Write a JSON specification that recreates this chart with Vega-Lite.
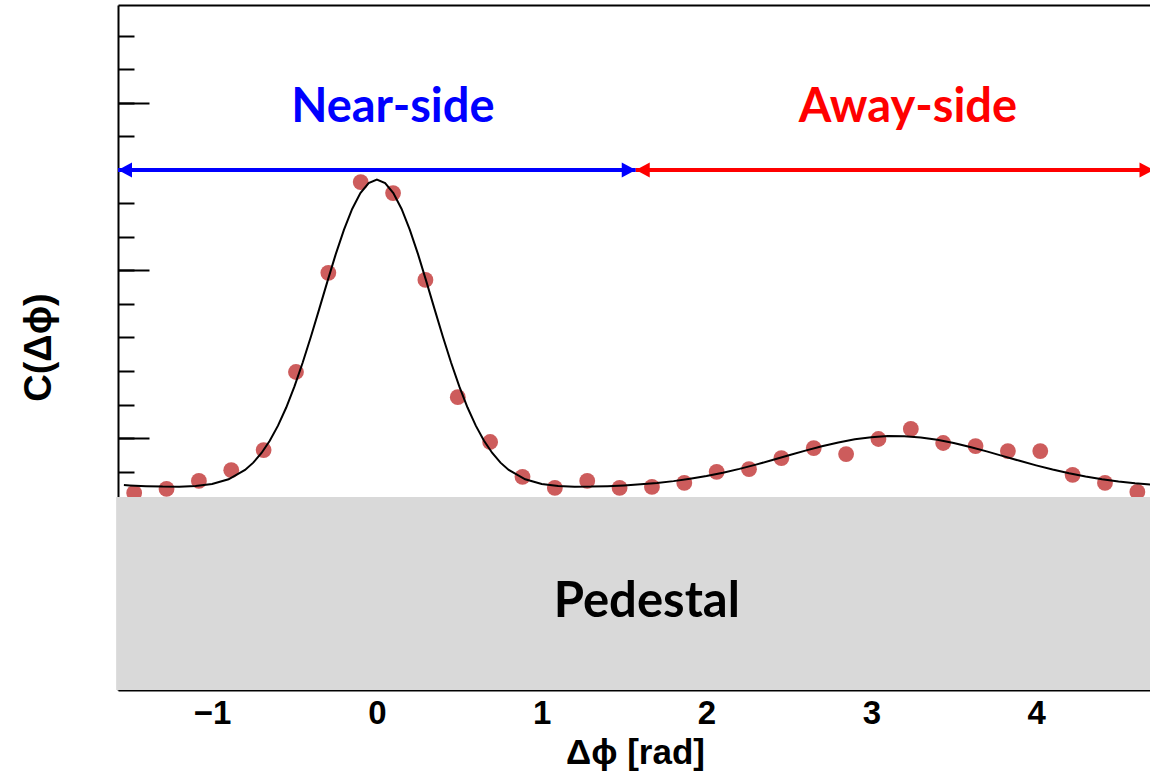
{
  "$schema": "https://vega.github.io/schema/vega-lite/v6.json",
  "width": 1032,
  "height": 685,
  "autosize": "none",
  "padding": {"left": 118, "top": 5, "right": 0, "bottom": 83},
  "background": "white",
  "config": {"view": {"stroke": null}},
  "datasets": {
    "points": [
      {"dphi": -1.4726, "c": 0.836}, {"dphi": -1.2763, "c": 0.848}, {"dphi": -1.0799, "c": 0.872}, {"dphi": -0.8836, "c": 0.904},
      {"dphi": -0.6872, "c": 0.964}, {"dphi": -0.4909, "c": 1.197}, {"dphi": -0.2945, "c": 1.493}, {"dphi": -0.0982, "c": 1.764},
      {"dphi": 0.0982, "c": 1.731}, {"dphi": 0.2945, "c": 1.472}, {"dphi": 0.4909, "c": 1.122}, {"dphi": 0.6872, "c": 0.988},
      {"dphi": 0.8836, "c": 0.884}, {"dphi": 1.0799, "c": 0.851}, {"dphi": 1.2763, "c": 0.872}, {"dphi": 1.4726, "c": 0.851},
      {"dphi": 1.669, "c": 0.854}, {"dphi": 1.8653, "c": 0.866}, {"dphi": 2.0617, "c": 0.899}, {"dphi": 2.258, "c": 0.907},
      {"dphi": 2.4544, "c": 0.94}, {"dphi": 2.6507, "c": 0.97}, {"dphi": 2.8471, "c": 0.952}, {"dphi": 3.0434, "c": 0.997},
      {"dphi": 3.2398, "c": 1.027}, {"dphi": 3.4361, "c": 0.985}, {"dphi": 3.6325, "c": 0.976}, {"dphi": 3.8288, "c": 0.961},
      {"dphi": 4.0252, "c": 0.961}, {"dphi": 4.2215, "c": 0.89}, {"dphi": 4.4179, "c": 0.866}, {"dphi": 4.6142, "c": 0.839}
    ],
    "fit": [
      {"dphi": -1.535, "c": 0.8595}, {"dphi": -1.5, "c": 0.8584}, {"dphi": -1.4, "c": 0.8562}, {"dphi": -1.3, "c": 0.8549},
      {"dphi": -1.2, "c": 0.8547}, {"dphi": -1.1, "c": 0.8567}, {"dphi": -1.0, "c": 0.8627}, {"dphi": -0.9, "c": 0.8767},
      {"dphi": -0.8, "c": 0.9048}, {"dphi": -0.75, "c": 0.9265}, {"dphi": -0.7, "c": 0.9554}, {"dphi": -0.65, "c": 0.9917},
      {"dphi": -0.6, "c": 1.0369}, {"dphi": -0.55, "c": 1.091}, {"dphi": -0.5, "c": 1.1539}, {"dphi": -0.45, "c": 1.2253},
      {"dphi": -0.4, "c": 1.3029}, {"dphi": -0.35, "c": 1.3848}, {"dphi": -0.3, "c": 1.4676}, {"dphi": -0.25, "c": 1.5481},
      {"dphi": -0.2, "c": 1.6212}, {"dphi": -0.15, "c": 1.6838}, {"dphi": -0.1, "c": 1.7312}, {"dphi": -0.05, "c": 1.7611},
      {"dphi": 0.0, "c": 1.7712}, {"dphi": 0.05, "c": 1.7611}, {"dphi": 0.1, "c": 1.7312}, {"dphi": 0.15, "c": 1.6838},
      {"dphi": 0.2, "c": 1.6212}, {"dphi": 0.25, "c": 1.5481}, {"dphi": 0.3, "c": 1.4676}, {"dphi": 0.35, "c": 1.3848},
      {"dphi": 0.4, "c": 1.3029}, {"dphi": 0.45, "c": 1.2253}, {"dphi": 0.5, "c": 1.1539}, {"dphi": 0.55, "c": 1.091},
      {"dphi": 0.6, "c": 1.0369}, {"dphi": 0.65, "c": 0.9917}, {"dphi": 0.7, "c": 0.9554}, {"dphi": 0.75, "c": 0.9265},
      {"dphi": 0.8, "c": 0.9048}, {"dphi": 0.9, "c": 0.8767}, {"dphi": 1.0, "c": 0.8627}, {"dphi": 1.1, "c": 0.8567},
      {"dphi": 1.2, "c": 0.8547}, {"dphi": 1.3, "c": 0.8549}, {"dphi": 1.4, "c": 0.8562}, {"dphi": 1.5, "c": 0.8584},
      {"dphi": 1.6, "c": 0.8616}, {"dphi": 1.7, "c": 0.8658}, {"dphi": 1.8, "c": 0.8713}, {"dphi": 1.9, "c": 0.8782},
      {"dphi": 2.0, "c": 0.8865}, {"dphi": 2.1, "c": 0.8965}, {"dphi": 2.2, "c": 0.9079}, {"dphi": 2.3, "c": 0.9206},
      {"dphi": 2.4, "c": 0.9343}, {"dphi": 2.5, "c": 0.9483}, {"dphi": 2.6, "c": 0.9623}, {"dphi": 2.7, "c": 0.9754},
      {"dphi": 2.8, "c": 0.9868}, {"dphi": 2.9, "c": 0.9961}, {"dphi": 3.0, "c": 1.0025}, {"dphi": 3.1, "c": 1.0057},
      {"dphi": 3.2, "c": 1.0054}, {"dphi": 3.3, "c": 1.0017}, {"dphi": 3.4, "c": 0.9947}, {"dphi": 3.5, "c": 0.9851},
      {"dphi": 3.6, "c": 0.9732}, {"dphi": 3.7, "c": 0.96}, {"dphi": 3.8, "c": 0.946}, {"dphi": 3.9, "c": 0.9319},
      {"dphi": 4.0, "c": 0.9184}, {"dphi": 4.1, "c": 0.9059}, {"dphi": 4.2, "c": 0.8947}, {"dphi": 4.3, "c": 0.885},
      {"dphi": 4.4, "c": 0.8769}, {"dphi": 4.5, "c": 0.8703}, {"dphi": 4.6, "c": 0.865}, {"dphi": 4.7124, "c": 0.8606}
    ],
    "ranges": [
      {"side": "Near-side", "from": -1.5708, "to": 1.5708},
      {"side": "Away-side", "from": 1.5708, "to": 4.7124}
    ],
    "heads": [
      {"side": "Near-side", "dphi": -1.5708, "dir": "left"},
      {"side": "Near-side", "dphi": 1.5708, "dir": "right"},
      {"side": "Away-side", "dphi": 1.5708, "dir": "left"},
      {"side": "Away-side", "dphi": 4.7124, "dir": "right"}
    ],
    "labels": [
      {"side": "Near-side", "dphi": 0.097},
      {"side": "Away-side", "dphi": 3.222}
    ],
    "pedestal": [
      {"label": "Pedestal", "from": -1.582, "to": 4.7124, "top": 0.8239, "bottom": 0.2478, "mid": 1.638}
    ]
  },
  "resolve": {"axis": {"x": "independent", "y": "independent"}},
  "layer": [
    {
      "data": {"name": "points"},
      "mark": {"type": "circle", "size": 250, "color": "#cd5c5c", "opacity": 1},
      "encoding": {
        "x": {"field": "dphi", "type": "quantitative",
          "scale": {"domain": [-1.5708, 4.691], "nice": false, "zero": false},
          "axis": {"orient": "bottom", "values": [-1, 0, 1, 2, 3, 4], "format": "d", "ticks": false, "tickSize": 0,
            "grid": false, "domainColor": "black", "domainWidth": 2, "zindex": 0,
            "labelFont": "Liberation Sans", "labelFontWeight": "bold", "labelFontSize": 33, "labelColor": "black",
            "labelBaseline": "alphabetic", "labelPadding": 33, "labelFlush": false,
            "title": "Δϕ [rad]", "titleFont": "Liberation Sans", "titleFontWeight": "bold", "titleFontSize": 35,
            "titleColor": "black", "titleBaseline": "alphabetic", "titleX": 517, "titleY": 73, "titleAnchor": "middle", "titleAlign": "center"}},
        "y": {"field": "c", "type": "quantitative",
          "scale": {"domain": [0.2478, 2.2925], "nice": false, "zero": false},
          "axis": {"orient": "left", "labels": false, "ticks": false, "grid": false, "zindex": 0,
            "domainColor": "black", "domainWidth": 2,
            "title": "C(Δϕ)", "titleFont": "Liberation Sans", "titleFontWeight": "bold", "titleFontSize": 38,
            "titleColor": "black", "titleAngle": -90, "titleBaseline": "alphabetic", "titleAlign": "center",
            "titleX": -68, "titleY": 342}}
      }
    },
    {
      "data": {"name": "fit"},
      "mark": {"type": "line", "color": "black", "strokeWidth": 2, "clip": true},
      "encoding": {
        "x": {"field": "dphi", "type": "quantitative",
          "scale": {"domain": [-1.5708, 4.691], "nice": false, "zero": false},
          "axis": {"orient": "top", "labels": false, "ticks": false, "grid": false, "title": null,
            "domainColor": "black", "domainWidth": 2, "zindex": 0}},
        "y": {"field": "c", "type": "quantitative",
          "scale": {"domain": [0.2478, 2.2925], "nice": false, "zero": false},
          "axis": {"orient": "left", "values": [0.9, 1.0, 1.1, 1.2, 1.3, 1.4, 1.5, 1.6, 1.7, 1.8, 1.9, 2.0, 2.1, 2.2],
            "offset": -16, "tickSize": 16, "tickWidth": 2, "tickColor": "black", "domain": false,
            "labels": false, "grid": false, "title": null, "zindex": 0}}
      }
    },
    {
      "data": {"name": "pedestal"},
      "mark": {"type": "rect", "color": "#d9d9d9"},
      "encoding": {
        "x": {"field": "from", "type": "quantitative", "scale": {"domain": [-1.5708, 4.691], "nice": false, "zero": false}, "axis": null},
        "x2": {"field": "to"},
        "y": {"field": "bottom", "type": "quantitative", "scale": {"domain": [0.2478, 2.2925], "nice": false, "zero": false},
          "axis": {"orient": "left", "values": [1.0, 1.5, 2.0],
            "offset": -31, "tickSize": 31, "tickWidth": 2, "tickColor": "black", "domain": false,
            "labels": false, "grid": false, "title": null, "zindex": 0}},
        "y2": {"field": "top"}
      }
    },
    {
      "data": {"name": "pedestal"},
      "mark": {"type": "text", "font": "Lato", "fontWeight": "bold", "fontSize": 49, "color": "black", "align": "center", "baseline": "alphabetic"},
      "encoding": {
        "x": {"field": "mid", "type": "quantitative", "scale": {"domain": [-1.5708, 4.691], "nice": false, "zero": false}, "axis": null},
        "y": {"datum": 0.4657, "type": "quantitative", "scale": {"domain": [0.2478, 2.2925], "nice": false, "zero": false}, "axis": null},
        "text": {"field": "label"}
      }
    },
    {
      "data": {"name": "ranges"},
      "mark": {"type": "rule", "strokeWidth": 4, "clip": true},
      "encoding": {
        "x": {"field": "from", "type": "quantitative", "scale": {"domain": [-1.5708, 4.691], "nice": false, "zero": false}, "axis": null},
        "x2": {"field": "to"},
        "y": {"datum": 1.8, "type": "quantitative", "scale": {"domain": [0.2478, 2.2925], "nice": false, "zero": false}, "axis": null},
        "color": {"field": "side", "type": "nominal", "scale": {"domain": ["Near-side", "Away-side"], "range": ["#0000ff", "#ff0000"]}, "legend": null}
      }
    },
    {
      "data": {"name": "heads"},
      "mark": {"type": "point", "filled": true, "opacity": 1, "size": 196, "strokeWidth": 0, "clip": true},
      "encoding": {
        "x": {"field": "dphi", "type": "quantitative", "scale": {"domain": [-1.5708, 4.691], "nice": false, "zero": false}, "axis": null},
        "y": {"datum": 1.8, "type": "quantitative", "scale": {"domain": [0.2478, 2.2925], "nice": false, "zero": false}, "axis": null},
        "shape": {"field": "dir", "type": "nominal", "scale": {"domain": ["left", "right"], "range": ["M 0 0 L 2 -1.07 L 2 1.07 Z", "M 0 0 L -2 -1.07 L -2 1.07 Z"]}, "legend": null},
        "color": {"field": "side", "type": "nominal", "scale": {"domain": ["Near-side", "Away-side"], "range": ["#0000ff", "#ff0000"]}, "legend": null}
      }
    },
    {
      "data": {"name": "labels"},
      "mark": {"type": "text", "font": "Lato", "fontWeight": "bold", "fontSize": 47, "align": "center", "baseline": "alphabetic"},
      "encoding": {
        "x": {"field": "dphi", "type": "quantitative", "scale": {"domain": [-1.5708, 4.691], "nice": false, "zero": false}, "axis": null},
        "y": {"datum": 1.943, "type": "quantitative", "scale": {"domain": [0.2478, 2.2925], "nice": false, "zero": false}, "axis": null},
        "text": {"field": "side"},
        "color": {"field": "side", "type": "nominal", "scale": {"domain": ["Near-side", "Away-side"], "range": ["#0000ff", "#ff0000"]}, "legend": null}
      }
    }
  ]
}
